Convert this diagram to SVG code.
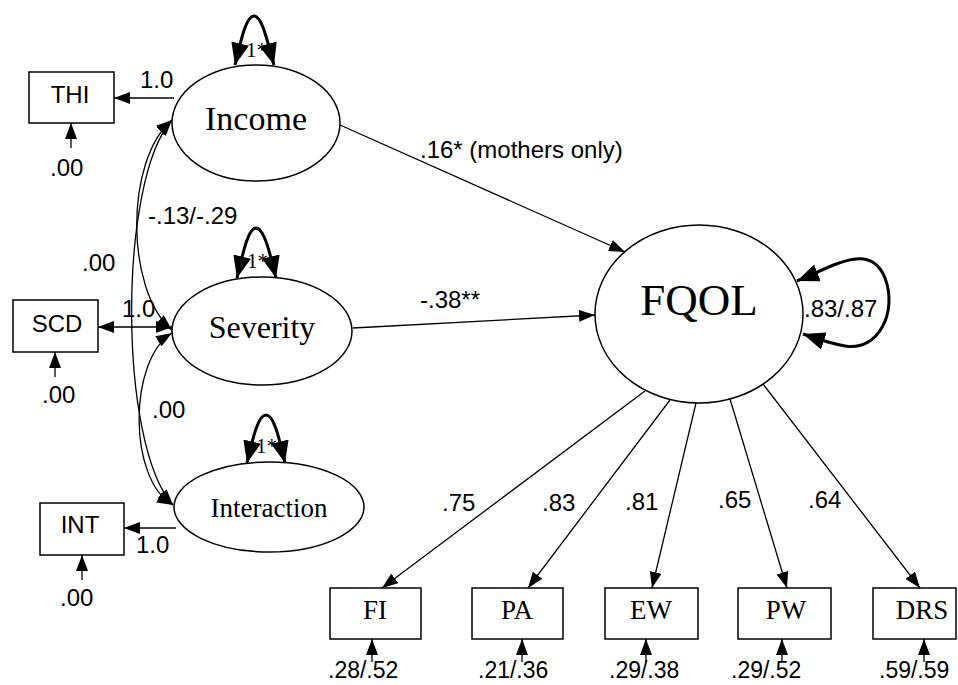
<svg xmlns="http://www.w3.org/2000/svg" width="958" height="685" viewBox="0 0 958 685">
<style>
.node{fill:#fff;stroke:#000;stroke-width:1.5}
.edge{fill:none;stroke:#000;stroke-width:1.3}
.loop{fill:none;stroke:#000;stroke-width:3}
.sans{font-family:"Liberation Sans",Arial,sans-serif;font-size:24px;fill:#000}
.err{font-size:23px}
.serif{font-family:"Liberation Serif","Times New Roman",serif;fill:#000}
.mid{text-anchor:middle}
</style>
<defs>
<marker id="arr" markerUnits="userSpaceOnUse" markerWidth="16" markerHeight="12" viewBox="0 0 16 12" refX="16" refY="6" orient="auto-start-reverse">
<path d="M0,0 L16,6 L0,12 z" fill="#000"/>
</marker>
<marker id="big" markerUnits="userSpaceOnUse" markerWidth="22" markerHeight="18" viewBox="0 0 22 18" refX="22" refY="9" orient="auto-start-reverse">
<path d="M0,0 L22,9 L0,18 z" fill="#000"/>
</marker>
</defs>
<rect x="0" y="0" width="958" height="685" fill="#fff"/>

<g id="node-income">
<ellipse class="node" cx="256" cy="123" rx="84" ry="58"/>
<text class="serif mid" x="256" y="130" font-size="34">Income</text>
</g>
<g id="node-severity">
<ellipse class="node" cx="262" cy="331" rx="90" ry="54"/>
<text class="serif mid" x="262" y="338" font-size="32">Severity</text>
</g>
<g id="node-interaction">
<ellipse class="node" cx="269" cy="507" rx="95" ry="45"/>
<text class="serif mid" x="269" y="517" font-size="27">Interaction</text>
</g>
<g id="node-fqol">
<ellipse class="node" cx="699" cy="314" rx="104" ry="89"/>
<text class="serif mid" x="699" y="315" font-size="45">FQOL</text>
</g>
<g id="node-thi">
<rect class="node" x="29" y="72" width="85" height="51"/>
<text class="sans mid" x="70" y="103">THI</text>
<text class="sans" x="50" y="176">.00</text>
</g>
<g id="node-scd">
<rect class="node" x="13" y="300" width="85" height="52"/>
<text class="sans mid" x="57" y="332">SCD</text>
<text class="sans" x="42" y="403">.00</text>
</g>
<g id="node-int">
<rect class="node" x="40" y="503" width="84" height="52"/>
<text class="sans mid" x="80" y="533">INT</text>
<text class="sans" x="60" y="606">.00</text>
</g>
<g id="node-fi">
<rect class="node" x="330" y="588" width="91" height="51"/>
<text class="serif mid" x="375" y="619" font-size="27">FI</text>
<text class="sans err" x="328" y="678">.28/.52</text>
</g>
<g id="node-pa">
<rect class="node" x="472" y="588" width="91" height="51"/>
<text class="serif mid" x="517" y="619" font-size="27">PA</text>
<text class="sans err" x="478" y="678">.21/.36</text>
</g>
<g id="node-ew">
<rect class="node" x="605" y="588" width="93" height="51"/>
<text class="serif mid" x="651" y="619" font-size="27">EW</text>
<text class="sans err" x="609" y="678">.29/.38</text>
</g>
<g id="node-pw">
<rect class="node" x="738" y="588" width="93" height="51"/>
<text class="serif mid" x="786" y="619" font-size="27">PW</text>
<text class="sans err" x="731" y="678">.29/.52</text>
</g>
<g id="node-drs">
<rect class="node" x="873" y="588" width="83" height="51"/>
<text class="serif mid" x="922" y="619" font-size="27">DRS</text>
<text class="sans err" x="879" y="678">.59/.59</text>
</g>

<g id="connectors">
<path class="edge" d="M174,98 L114,98" marker-end="url(#arr)"/>
<path class="edge" d="M98,327 L172,327" marker-start="url(#arr)" marker-end="url(#arr)"/>
<path class="edge" d="M176,528 L124,528" marker-end="url(#arr)"/>
<text class="sans" x="140" y="88">1.0</text>
<text class="sans" x="122" y="317">1.0</text>
<text class="sans" x="136" y="553">1.0</text>
<path class="edge" d="M71,148 L71,123" marker-end="url(#arr)"/>
<path class="edge" d="M55,377 L55,352" marker-end="url(#arr)"/>
<path class="edge" d="M82,580 L82,555" marker-end="url(#arr)"/>
<path class="edge" d="M372,662 L372,639" marker-end="url(#arr)"/>
<path class="edge" d="M522,662 L522,639" marker-end="url(#arr)"/>
<path class="edge" d="M646,662 L646,639" marker-end="url(#arr)"/>
<path class="edge" d="M782,662 L782,639" marker-end="url(#arr)"/>
<path class="edge" d="M924,662 L924,639" marker-end="url(#arr)"/>
<path class="edge" d="M172,120 C125,160 125,290 172,330" marker-start="url(#arr)" marker-end="url(#arr)"/>
<path class="edge" d="M172,120 C118,180 118,445 173,505" marker-start="url(#arr)" marker-end="url(#arr)"/>
<path class="edge" d="M172,333 C128,360 128,480 173,505" marker-start="url(#arr)" marker-end="url(#arr)"/>
<text class="sans" x="148" y="224">-.13/-.29</text>
<text class="sans" x="82" y="271">.00</text>
<text class="sans" x="152" y="418">.00</text>
<path class="edge" d="M340,125 L625,252" marker-end="url(#arr)"/>
<path class="edge" d="M353,328 L595,315" marker-end="url(#arr)"/>
<text class="sans" x="420" y="158">.16* (mothers only)</text>
<text class="sans" x="420" y="308">-.38**</text>
<path class="edge" d="M645,391 L382,588" marker-end="url(#arr)"/>
<path class="edge" d="M670,400 L528,588" marker-end="url(#arr)"/>
<path class="edge" d="M696,403 L652,588" marker-end="url(#arr)"/>
<path class="edge" d="M730,399 L787,588" marker-end="url(#arr)"/>
<path class="edge" d="M763,384 L920,588" marker-end="url(#arr)"/>
<text class="sans" x="442" y="511">.75</text>
<text class="sans" x="542" y="511">.83</text>
<text class="sans" x="625" y="510">.81</text>
<text class="sans" x="718" y="508">.65</text>
<text class="sans" x="808" y="508">.64</text>
<text class="serif" x="246" y="57" font-size="21">1*</text>
<text class="serif" x="247" y="268" font-size="21">1*</text>
<text class="serif" x="256" y="453" font-size="21">1*</text>
<path class="loop" d="M235,65 C241,40 246,16 254,16 C262,16 267,40 274,65" marker-start="url(#big)" marker-end="url(#big)"/>
<path class="loop" d="M237,278 C243,253 248,228 256,228 C264,228 270,253 276,278" marker-start="url(#big)" marker-end="url(#big)"/>
<path class="loop" d="M247,463 C253,438 258,415 266,415 C274,415 279,438 285,463" marker-start="url(#big)" marker-end="url(#big)"/>
<path class="loop" d="M797,281 C830,268 870,240 885,278 C898,312 878,352 845,346 C828,343 815,338 803,334" marker-start="url(#big)" marker-end="url(#big)"/>
<text class="sans" x="804" y="317">.83/.87</text>
</g>
</svg>
